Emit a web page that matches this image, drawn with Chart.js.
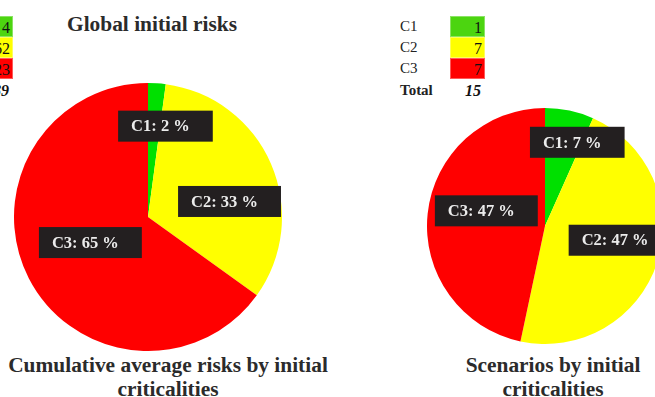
<!DOCTYPE html>
<html>
<head>
<meta charset="utf-8">
<script src="https://cdn.jsdelivr.net/npm/chart.js@4/dist/chart.umd.min.js"></script>
<style>
  html, body { margin: 0; padding: 0; background: #fff; overflow: hidden; }
  #stage { position: relative; width: 655px; height: 397px; font-family: "Liberation Serif", "Times New Roman", Tinos, "DejaVu Serif", serif; color: #222; }
  .title { position: absolute; font-weight: bold; font-size: 21.4px; text-align: center; line-height: 24px; color: #2b2b2b; }
  canvas { position: absolute; }
  .row { position: absolute; height: 21px; line-height: 21px; font-size: 15px; }
  .lab { position: absolute; }
  .cell { position: absolute; width: 35px; height: 21px; text-align: right; box-sizing: border-box; padding-right: 2px; font-size: 16px; color: #111; }
  .total { font-weight: bold; }
</style>
</head>
<body>
<div id="stage">
  <div class="title" style="left:32px; top:12px; width:240px;">Global initial risks</div>
  <div class="title" style="left:-12px; top:353px; width:360px;">Cumulative average risks by initial<br>criticalities</div>
  <div class="title" style="left:438px; top:353px; width:230px;">Scenarios by initial<br>criticalities</div>
  <div id="table-left"></div>
  <div id="table-right"></div>
  <canvas id="pie-left" width="268" height="268" style="left:14px; top:83px;"></canvas>
  <canvas id="pie-right" width="236" height="236" style="left:427px; top:108px;"></canvas>
</div>
<script>
const categories = ['C1', 'C2', 'C3'];
const riskValues = [4, 62, 123];
const scenarioValues = [1, 7, 7];
const pieColors = ['#00e000', '#ffff00', '#ff0000'];
const cellColors = ['#4cd510', '#ffff00', '#ff0000'];

// label box nudges from the half-radius point of each slice
const leftLabelShift = [[13, -24], [20, 11], [2, -5]];
const rightLabelShift = [[20, -26], [19, -4], [0, -9]];

const serif = '"Liberation Serif", "Times New Roman", Tinos, "DejaVu Serif", serif';

function buildTable(id, values, left) {
    const el = document.getElementById(id);
    const total = values.reduce((s, v) => s + v, 0);
    let html = '';
    values.forEach((v, i) => {
        const top = 16 + i * 21;
        html += `<div class="row" style="left:${left}px; top:${top}px;">`;
        html += `<span class="lab" style="left:0px;">${categories[i]}</span>`;
        html += `<span class="cell" style="left:50px; background:${cellColors[i]}; border:1px solid rgba(255,255,255,0.35);">${v}</span></div>`;
    });
    html += `<div class="row total" style="left:${left}px; top:80px;">`;
    html += `<span class="lab" style="left:0px;">Total</span>`;
    html += `<span class="cell" style="left:50px; font-style:italic; padding-right:4px;">${total}</span></div>`;
    el.innerHTML = html;
}

buildTable('table-left', riskValues, -72);
buildTable('table-right', scenarioValues, 400);

const boxLabels = {
    id: 'boxLabels',
    afterDatasetsDraw(chart, args, opts) {
        const ctx = chart.ctx;
        const data = chart.data.datasets[0].data;
        const total = data.reduce((s, v) => s + v, 0);
        chart.getDatasetMeta(0).data.forEach((arc, i) => {
            const p = arc.getProps(['x', 'y', 'startAngle', 'endAngle', 'outerRadius'], true);
            const mid = (p.startAngle + p.endAngle) / 2;
            const cx = p.x + Math.cos(mid) * p.outerRadius * 0.5 + opts.shift[i][0];
            const cy = p.y + Math.sin(mid) * p.outerRadius * 0.5 + opts.shift[i][1];
            const text = `${chart.data.labels[i]}: ${Math.round(data[i] / total * 100)} %`;
            ctx.save();
            ctx.font = `bold 16.5px ${serif}`;
            const w = ctx.measureText(text).width + 36;
            const h = 31;
            ctx.fillStyle = '#231f20';
            ctx.fillRect(cx - w / 2, cy - h / 2, w, h);
            ctx.fillStyle = '#ececec';
            ctx.textBaseline = 'middle';
            ctx.fillText(text, cx - w / 2 + 13, cy + 1);
            ctx.restore();
        });
    }
};

function makePie(id, values, shift) {
    return new Chart(document.getElementById(id), {
        type: 'pie',
        data: {
            labels: categories,
            datasets: [{ data: values, backgroundColor: pieColors, borderWidth: 0 }]
        },
        options: {
            responsive: false,
            animation: false,
            layout: { padding: 0 },
            plugins: {
                legend: { display: false },
                tooltip: { enabled: false },
                boxLabels: { shift }
            }
        },
        plugins: [boxLabels]
    });
}

makePie('pie-left', riskValues, leftLabelShift);
makePie('pie-right', scenarioValues, rightLabelShift);
</script>
</body>
</html>
